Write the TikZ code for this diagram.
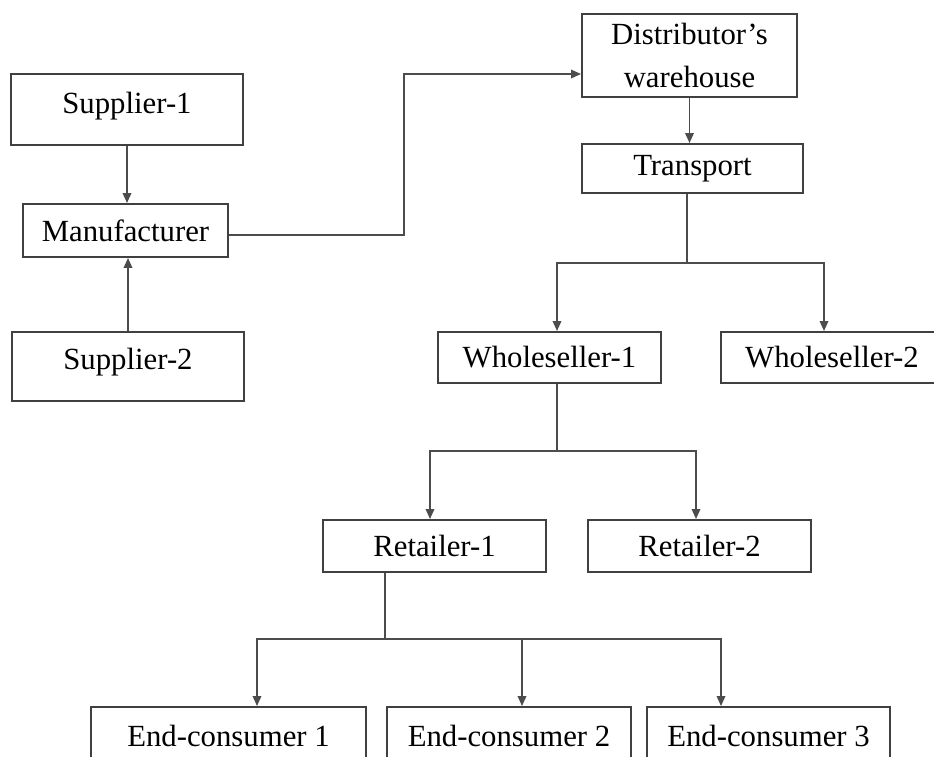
\documentclass[tikz,border=0pt]{standalone}
\usepackage{fontspec}
\setmainfont{Liberation Serif}
\usetikzlibrary{arrows.meta}

\begin{document}
\begin{tikzpicture}[font=\fontsize{17.5}{24}\selectfont,
  blk/.style={draw=black!75,line width=1.1pt,inner sep=0pt},
  ln/.style={black!70,line width=1pt},
  arr/.style={ln,-{Triangle[length=2mm,width=1.7mm]}}]
  \useasboundingbox (0,0) rectangle (18.68,-15.12);
  % dodavatele a vyrobce vlevo
  \node[blk,minimum width=4.64cm,minimum height=1.42cm,text height=0.78cm,text depth=0.64cm] (sup1) at (2.54,-2.19) {Supplier-1};
  \node[blk,minimum width=4.10cm,minimum height=1.06cm] (man) at (2.51,-4.61) {Manufacturer};
  \node[blk,minimum width=4.64cm,minimum height=1.38cm,text height=0.74cm,text depth=0.64cm] (sup2) at (2.56,-7.33) {Supplier-2};
  % distribuce vpravo nahore
  \node[blk,align=center,minimum width=4.30cm,minimum height=1.66cm] (dist) at (13.79,-1.11) {Distributor's\\warehouse};
  \node[blk,minimum width=4.42cm,minimum height=0.98cm] (trans) at (13.85,-3.37) {Transport};
  \node[blk,minimum width=4.46cm,minimum height=1.02cm] (whs1) at (10.99,-7.15) {Wholeseller-1};
  \node[blk,minimum width=4.44cm,minimum height=1.02cm] (whs2) at (16.64,-7.15) {Wholeseller-2};
  \node[blk,minimum width=4.46cm,minimum height=1.04cm] (ret1) at (8.69,-10.92) {Retailer-1};
  \node[blk,minimum width=4.46cm,minimum height=1.04cm] (ret2) at (13.99,-10.92) {Retailer-2};
  % koncovi spotrebitele, spodek oriznut okrajem
  \node[blk,minimum width=5.50cm,minimum height=1.14cm] (end1) at (4.57,-14.71) {End-consumer 1};
  \node[blk,minimum width=4.88cm,minimum height=1.14cm] (end2) at (10.18,-14.71) {End-consumer 2};
  \node[blk,minimum width=4.86cm,minimum height=1.14cm] (end3) at (15.37,-14.71) {End-consumer 3};

  \draw[arr] (sup1.south) -- (sup1.south |- man.north);
  \draw[arr] (sup2.north) -- (sup2.north |- man.south);
  \coordinate (din) at ([yshift=-0.37cm]dist.west);
  \draw[arr] ([yshift=-0.09cm]man.east) -- ++(3.5,0) |- (din);
  \draw[arr] (dist.south) -- (dist.south |- trans.north);
  % rozbocky
  \coordinate (tj) at (13.74,-5.26);
  \draw[ln] (trans.south -| tj) -- (tj);
  \draw[arr] (tj) -| ([xshift=0.15cm]whs1.north);
  \draw[arr] (tj) -| ([xshift=-0.16cm]whs2.north);
  \coordinate (wj) at (11.14,-9.02);
  \draw[ln] (whs1.south -| wj) -- (wj);
  \draw[arr] (wj) -| ([xshift=-0.09cm]ret1.north);
  \draw[arr] (wj) -| ([xshift=-0.07cm]ret2.north);
  \coordinate (rj) at (7.70,-12.78);
  \draw[ln] (ret1.south -| rj) -- (rj);
  \draw[arr] (rj) -| ([xshift=0.57cm]end1.north);
  \draw[arr] (rj) -| ([xshift=0.26cm]end2.north);
  \draw[arr] (rj) -| ([xshift=-0.95cm]end3.north);
\end{tikzpicture}
\end{document}
